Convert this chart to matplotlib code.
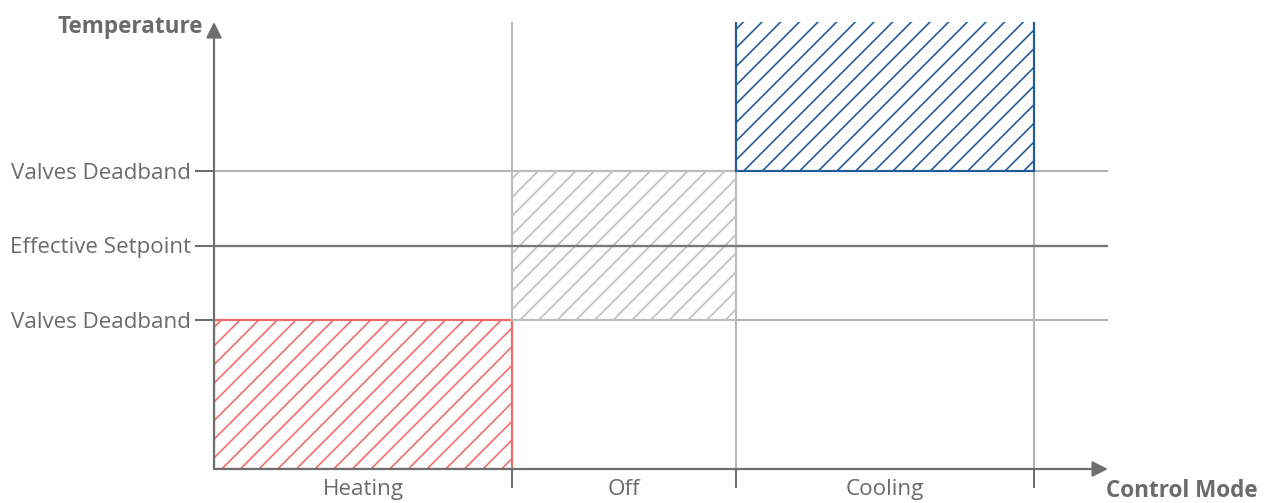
import numpy as np
import matplotlib.pyplot as plt

plt.rcParams['font.family'] = ['Open Sans', 'DejaVu Sans']
plt.rcParams['hatch.linewidth'] = 1.05

# control modes along the x axis, with their band edges
modes = ['Heating', 'Off', 'Cooling']
mode_edges = [0, 4, 7, 11]
# temperature band (bottom, top) for each mode
band_low = [0, 2, 4]
band_high = [2, 4, 6.5]
mode_colors = ['#ef6b6b', '#bdbdbd', '#1f5a9a']

# temperature reference levels
level_pos = [2, 3, 4]
level_labels = ['Valves Deadband', 'Effective Setpoint', 'Valves Deadband']
level_colors = ['#b3b3b3', '#777777', '#b3b3b3']

dpi = 112
fig = plt.figure(figsize=(1266 / dpi, 503 / dpi), dpi=dpi)
ax = fig.add_axes([214 / 1266, 34 / 503, 894 / 1266, 447 / 503])
ax.set_xlim(0, 12)
ax.set_ylim(0, 6)

axis_col = '#6e6e6e'
text_col = '#6b6b6b'

# grid lines
for x in mode_edges[1:]:
    ax.axvline(x, color='#b3b3b3', lw=1.3, zorder=1)
for y, c in zip(level_pos, level_colors):
    ax.axhline(y, color=c, lw=1.3 if c == '#b3b3b3' else 1.5,
               zorder=3 if c != '#b3b3b3' else 1)

# hatched bands
left = mode_edges[:-1]
width = np.diff(mode_edges)
heights = np.array(band_high) - np.array(band_low)
for l, w, b, h, c in zip(left, width, band_low, heights, mode_colors):
    ax.bar(l, h, width=w, bottom=b, align='edge', fill=False,
           hatch='//', edgecolor=c, lw=1.4, zorder=2)

for s in ax.spines.values():
    s.set_visible(False)

# y ticks
ax.set_yticks(level_pos, level_labels)
ax.tick_params(axis='y', length=12, width=1.3, color=axis_col,
               labelcolor=text_col, labelsize=14.4, pad=3)

# x ticks: separators as major, mode names as minor
centers = [(a + b) / 2 for a, b in zip(mode_edges[:-1], mode_edges[1:])]
ax.set_xticks(mode_edges[1:], [''] * 3)
ax.set_xticks(centers, modes, minor=True)
ax.tick_params(axis='x', which='major', length=12.5, width=1.3, color=axis_col)
ax.tick_params(axis='x', which='minor', length=0, labelcolor=text_col,
               labelsize=14.4, pad=6.5)

# axes arrows
arrow = dict(arrowstyle='-|>', color=axis_col, lw=1.4, mutation_scale=21,
             shrinkA=0, shrinkB=0)
ax.annotate('', xy=(1, 0), xytext=(0, 0), xycoords='axes fraction',
            arrowprops=arrow, annotation_clip=False, zorder=5)
ax.annotate('', xy=(0, 1), xytext=(0, 0), xycoords='axes fraction',
            arrowprops=arrow, annotation_clip=False, zorder=5)

ax.text(-0.012, 0.988, 'Temperature', transform=ax.transAxes, ha='right',
        va='center', fontsize=14.5, fontweight='bold', color=text_col)
ax.text(0.998, -0.05, 'Control Mode', transform=ax.transAxes, ha='left',
        va='center', fontsize=14.5, fontweight='bold', color=text_col)

fig.savefig('out.png', dpi=dpi)
